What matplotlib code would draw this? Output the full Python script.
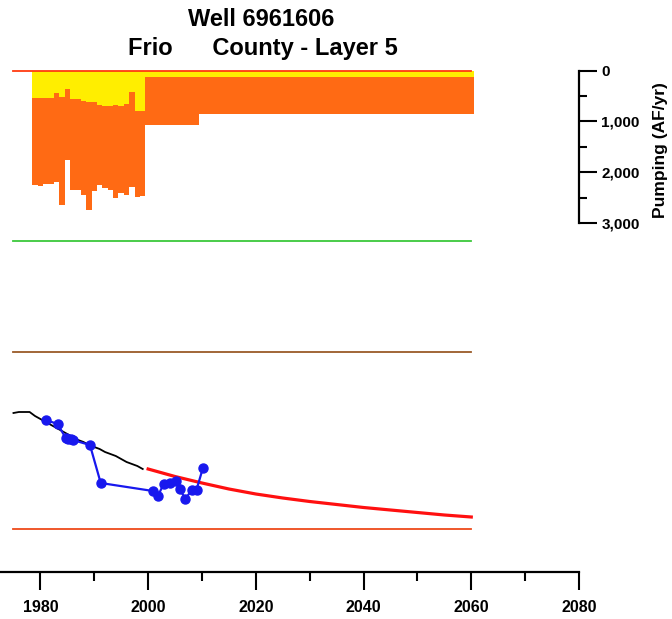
import numpy as np
import matplotlib
matplotlib.use("Agg")
import matplotlib.pyplot as plt
from matplotlib.ticker import MultipleLocator, FixedLocator, FuncFormatter

plt.rcParams['font.family'] = ['Liberation Sans', 'DejaVu Sans']

# ---- pumping (AF/yr), annual bars ----
hist_years = list(range(1979, 2000))
hist_yellow = [530, 530, 530, 530, 430, 520, 370, 560, 560, 600, 620,
               620, 680, 700, 700, 680, 700, 650, 410, 800, 800]
hist_total = [2250, 2270, 2230, 2240, 2200, 2650, 1750, 2350, 2350, 2450, 2750,
              2370, 2250, 2320, 2350, 2500, 2400, 2450, 2300, 2480, 2470]
pred_years = list(range(2000, 2061))
pred_yellow = [120] * 61
pred_total = [1060] * 10 + [860] * 51

# ---- reference elevations (ft) ----
ref_levels = [650, 480, 369, 192]
ref_colors = ['#ff3a10', '#3cc83c', '#9a5a28', '#ee4a1a']
ref_span = (1975, 2060)

# ---- simulated water levels (ft) ----
sim_years = list(range(1975, 2000))
sim_levels = [308, 309, 309, 309, 305, 302, 299, 296, 293, 290, 287, 284, 281,
              279, 276, 274, 272, 269, 267, 265, 262, 259, 257, 255, 252]
fut_years = [2000, 2005, 2010, 2015, 2020, 2025, 2030, 2035, 2040, 2045, 2050, 2055, 2060]
fut_levels = [252, 244.5, 238, 232, 227, 223, 219.5, 216.5, 213.5, 211, 208.5, 206, 204]

# ---- observed water levels (ft) ----
obs_years = [1981.0, 1983.2, 1984.7, 1985.2, 1985.7, 1986.0, 1989.2, 1991.2, 2000.9,
             2001.8, 2002.9, 2004.0, 2005.2, 2005.9, 2006.9, 2008.1, 2009.0, 2010.2]
obs_levels = [301, 297, 283, 282, 282, 281, 276, 238, 230, 225, 237, 238, 240,
              232, 222, 231, 231.5, 253.5]

W, H = 672, 619
fig = plt.figure(figsize=(W / 100, H / 100), dpi=100)
ax = fig.add_axes([0, 1 - 572 / H, 579 / W, (572 - 60) / H])
ax2 = ax.twinx()

ax2.bar(hist_years, hist_total, width=1.0, color='#ff6a14', linewidth=0)
ax2.bar(hist_years, hist_yellow, width=1.0, color='#ffee00', linewidth=0)
ax2.bar(pred_years, pred_total, width=1.0, color='#ff6a14', linewidth=0)
ax2.bar(pred_years, pred_yellow, width=1.0, color='#ffee00', linewidth=0)

for lev, c in zip(ref_levels, ref_colors):
    ax.plot(ref_span, [lev, lev], color=c, lw=1.3)
ax.plot(sim_years, sim_levels, color='black', lw=1.3)
ax.plot(fut_years, fut_levels, color='#ff1010', lw=2.3)
ax.plot(obs_years, obs_levels, color='#1818ee', lw=1.6, marker='o', ms=6.5)

ax.set_zorder(ax2.get_zorder() + 1)
ax.patch.set_visible(False)

ax.set_xlim(1972.5, 2080)
ax.set_ylim(149, 661)
ax2.set_ylim((572 - 70.7) / 50.77 * 1000, (60 - 70.7) / 50.77 * 1000)

for s in ['left', 'top', 'right']:
    ax.spines[s].set_visible(False)
ax.spines['bottom'].set_linewidth(1.6)
ax.set_yticks([])
ax.xaxis.set_major_locator(MultipleLocator(20))
ax.xaxis.set_minor_locator(MultipleLocator(10))
ax.tick_params(axis='x', which='major', length=13, width=1.5, labelsize=11.5, pad=7)
ax.tick_params(axis='x', which='minor', length=6.5, width=1.5)
for lab in ax.get_xticklabels():
    lab.set_fontweight('bold')

for s in ['left', 'top', 'bottom']:
    ax2.spines[s].set_visible(False)
ax2.spines['right'].set_bounds(0, 3000)
ax2.spines['right'].set_linewidth(1.6)
ax2.yaxis.set_major_locator(FixedLocator([0, 1000, 2000, 3000]))
ax2.yaxis.set_minor_locator(FixedLocator([500, 1500, 2500]))
ax2.yaxis.set_major_formatter(FuncFormatter(lambda v, p: f"{int(v):,}"))
ax2.tick_params(axis='y', which='major', length=13, width=1.5, labelsize=11, pad=3)
ax2.tick_params(axis='y', which='minor', length=6, width=1.5)
for lab in ax2.get_yticklabels():
    lab.set_fontweight('bold')
fig.text(661 / W, 1 - 150 / H, 'Pumping (AF/yr)', rotation=90, ha='center',
         va='center', fontsize=12.5, fontweight='bold')

fig.text(261 / W, 1 - 20 / H, 'Well 6961606', ha='center', va='center',
         fontsize=17, fontweight='bold')
fig.text(263 / W, 1 - 48 / H, 'Frio      County - Layer 5', ha='center', va='center',
         fontsize=17, fontweight='bold')

fig.savefig('out.png', dpi=100)
